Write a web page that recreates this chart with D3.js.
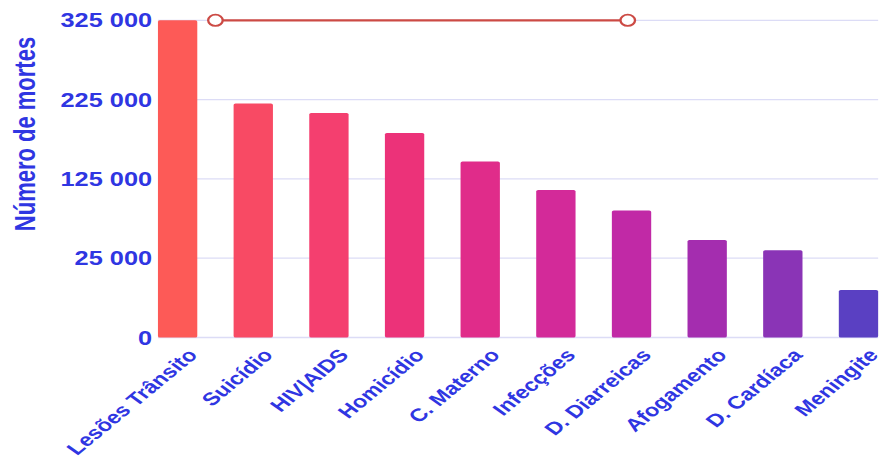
<!DOCTYPE html>
<html>
<head>
<meta charset="utf-8">
<script src="https://cdn.jsdelivr.net/npm/d3@7"></script>
<style>
  body { margin: 0; background: #fff; }
  svg text { font-family: "Liberation Sans", Arial, sans-serif; font-weight: bold; fill: #2f36e2; }
</style>
</head>
<body>
<svg id="chart"></svg>
<script>
// causas de morte
var categories = ["Lesões Trânsito", "Suicídio", "HIV|AIDS", "Homicídio", "C. Materno",
                  "Infecções", "D. Diarreicas", "Afogamento", "D. Cardíaca", "Meningite"];
var deaths = [325000, 220000, 208000, 183000, 147000, 111000, 85000, 48000, 35000, 15000];
var barColors = ["#fd5a57", "#f84a64", "#f43f6f", "#ec3279", "#e02c8a",
                 "#d32a99", "#c129a6", "#a42daf", "#8a34b6", "#5a40c2"];
var tickValues = [0, 25000, 125000, 225000, 325000];
// linha de referência (índice das categorias)
var refLine = [0.5, 5.95];
var refValue = 325000;

var width = 883, height = 463;
var sx = 1.3; // a imagem original está esticada na horizontal
var innerW = width / sx;

var svg = d3.select("#chart")
  .attr("width", width)
  .attr("height", height)
  .attr("viewBox", "0 0 " + innerW + " " + height)
  .attr("preserveAspectRatio", "none");

var x = d3.scaleBand()
  .domain(categories)
  .range([121.5, 675.5])
  .paddingInner(0.48)
  .paddingOuter(0);

// eixo com escala por partes (0 -> 25 000 -> 325 000)
var y = d3.scaleLinear()
  .domain([0, 25000, 325000])
  .range([337.5, 258.2, 20.3]);

var fmt = d3.formatLocale({decimal: ",", thousands: " ", grouping: [3], currency: ["", ""]}).format(",d");

// grelha
svg.append("g")
  .selectAll("line")
  .data(tickValues)
  .enter().append("line")
  .attr("x1", 121.5)
  .attr("x2", 675.5)
  .attr("y1", function(d) { return y(d); })
  .attr("y2", function(d) { return y(d); })
  .attr("stroke", "#dcdcf6")
  .attr("stroke-width", 1.3);

// labels eixo y
svg.append("g")
  .selectAll("text")
  .data(tickValues)
  .enter().append("text")
  .attr("x", 117)
  .attr("y", function(d) { return y(d); })
  .attr("dy", "0.36em")
  .attr("text-anchor", "end")
  .style("font-size", "19.5px")
  .text(function(d) { return fmt(d); });

svg.append("text")
  .attr("transform", "translate(27,134) rotate(-90)")
  .attr("text-anchor", "middle")
  .style("font-size", "22px")
  .text("Número de mortes");

// barras
svg.append("g")
  .selectAll("rect")
  .data(deaths)
  .enter().append("rect")
  .attr("x", function(d, i) { return x(categories[i]); })
  .attr("y", function(d) { return y(d); })
  .attr("width", x.bandwidth())
  .attr("height", function(d) { return y(0) - y(d); })
  .attr("rx", 1.5)
  .attr("fill", function(d, i) { return barColors[i]; });

// labels eixo x
svg.append("g")
  .selectAll("text")
  .data(categories)
  .enter().append("text")
  .attr("transform", function(d) {
    var cx = x(d) + x.bandwidth() / 2 + 16;
    return "translate(" + cx + ",356) rotate(-47)";
  })
  .attr("text-anchor", "end")
  .style("font-size", "18px")
  .text(function(d) { return d; });

// linha vermelha
var idx = d3.scaleLinear()
  .domain([0, categories.length - 1])
  .range([x(categories[0]) + x.bandwidth() / 2, x(categories[categories.length - 1]) + x.bandwidth() / 2]);

svg.append("line")
  .attr("x1", idx(refLine[0]))
  .attr("x2", idx(refLine[1]))
  .attr("y1", y(refValue))
  .attr("y2", y(refValue))
  .attr("stroke", "#cc4a44")
  .attr("stroke-width", 2.2);

svg.append("g")
  .selectAll("ellipse")
  .data(refLine)
  .enter().append("ellipse")
  .attr("cx", function(d) { return idx(d); })
  .attr("cy", y(refValue))
  .attr("rx", 5.6)
  .attr("ry", 5.6)
  .attr("fill", "#fff")
  .attr("stroke", "#cc4a44")
  .attr("stroke-width", 1.8);
</script>
</body>
</html>
